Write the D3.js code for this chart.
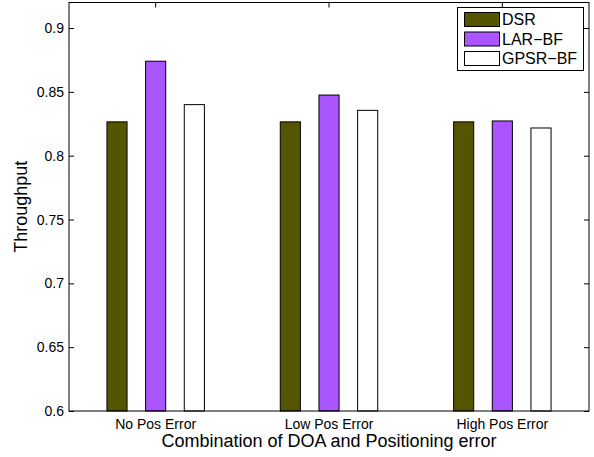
<!DOCTYPE html>
<html>
<head>
<meta charset="utf-8">
<script src="https://cdn.jsdelivr.net/npm/d3@7"></script>
<style>
  body { margin: 0; background: #fff; }
  svg { display: block; font-family: "Liberation Sans", Arial, Helvetica, sans-serif; }
</style>
</head>
<body>
<svg id="chart" width="594" height="457"></svg>
<script>
// data
const categories = ['No Pos Error', 'Low Pos Error', 'High Pos Error'];
const seriesNames = ['DSR', 'LAR\u2212BF', 'GPSR\u2212BF'];
const dsr = [0.8265, 0.8265, 0.8265];
const larBf = [0.874, 0.8475, 0.8272];
const gpsrBf = [0.840, 0.8355, 0.8217];
const yTicks = [0.6, 0.65, 0.7, 0.75, 0.8, 0.85, 0.9];
const colors = ['#555500', '#aa55ff', '#ffffff'];

const values = [dsr, larBf, gpsrBf];

const svg = d3.select('#chart'),
  padL = 69, padR = 589, padT = 2.5, padB = 411;

const x = d3.scaleBand().domain(categories).range([padL, padR]).padding(0);
const xs = d3.scaleBand().domain(seriesNames).range([-58, 58])
  .paddingInner(0.48).paddingOuter(0.24);
const y = d3.scaleLinear().domain([0.6, 0.92]).range([padB, padT]);

const fmt = d => d3.format('')(+d.toFixed(2));

// axes with inward ticks (matlab style)
svg.append('g')
  .attr('transform', `translate(${padL},0)`)
  .call(d3.axisLeft(y).tickValues(yTicks).tickSize(-5).tickPadding(5).tickFormat(fmt))
  .call(g => g.select('.domain').remove())
  .call(g => g.selectAll('text').attr('font-size', 14).attr('fill', '#000').attr('font-family', null));

svg.append('g')
  .attr('transform', `translate(${padR},0)`)
  .call(d3.axisRight(y).tickValues(yTicks).tickSize(-5).tickFormat(''))
  .call(g => g.select('.domain').remove());

svg.append('g')
  .attr('transform', `translate(0,${padB})`)
  .call(d3.axisBottom(x).tickSize(-5).tickPadding(8))
  .call(g => g.select('.domain').remove())
  .call(g => g.selectAll('text').attr('font-size', 14).attr('fill', '#000').attr('font-family', null));

svg.append('g')
  .attr('transform', `translate(0,${padT})`)
  .call(d3.axisTop(x).tickSize(-5).tickFormat(''))
  .call(g => g.select('.domain').remove());

// bars
seriesNames.forEach((s, si) => {
  svg.append('g')
    .selectAll('rect')
    .data(values[si])
    .enter()
    .append('rect')
    .attr('x', (d, i) => x(categories[i]) + x.bandwidth() / 2 + xs(s))
    .attr('y', d => y(d))
    .attr('width', xs.bandwidth())
    .attr('height', d => y(0.6) - y(d))
    .attr('fill', colors[si])
    .attr('stroke', '#000')
    .attr('stroke-width', 1);
});

// frame
svg.append('rect')
  .attr('x', padL).attr('y', padT)
  .attr('width', padR - padL).attr('height', padB - padT)
  .attr('fill', 'none').attr('stroke', '#000').attr('stroke-width', 1);

// axis titles
svg.append('text')
  .attr('x', (padL + padR) / 2).attr('y', 447)
  .attr('text-anchor', 'middle').attr('font-size', 18)
  .text('Combination of DOA and Positioning error');

svg.append('text')
  .attr('transform', `translate(27,${(padT + padB) / 2}) rotate(-90)`)
  .attr('text-anchor', 'middle').attr('font-size', 18)
  .text('Throughput');

// legend
const lg = svg.append('g').attr('transform', 'translate(457.5,7.5)');
lg.append('rect').attr('width', 126).attr('height', 63)
  .attr('fill', '#fff').attr('stroke', '#000');
seriesNames.forEach((s, i) => {
  lg.append('rect')
    .attr('x', 7).attr('y', 5 + i * 19.5)
    .attr('width', 35).attr('height', 14)
    .attr('fill', colors[i]).attr('stroke', '#000');
  lg.append('text')
    .attr('x', 44.5).attr('y', 17.5 + i * 19.5)
    .attr('font-size', 16)
    .text(s);
});
</script>
</body>
</html>
